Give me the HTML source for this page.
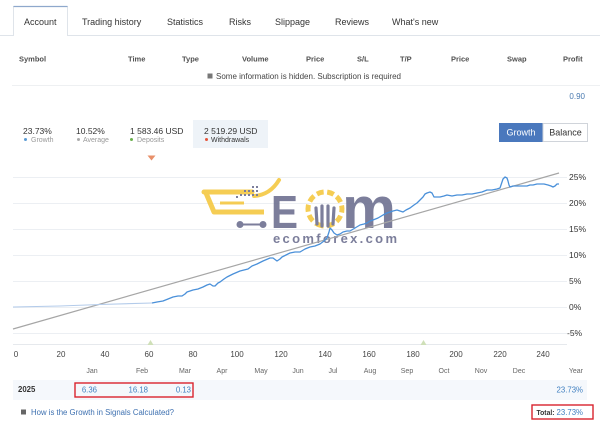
<!DOCTYPE html>
<html><head><meta charset="utf-8"><style>
html,body{margin:0;padding:0;background:#fff;width:600px;height:424px;overflow:hidden}
svg{display:block;font-family:"Liberation Sans",Arial,sans-serif}
</style></head><body>
<svg width="600" height="424" viewBox="0 0 600 424" xmlns="http://www.w3.org/2000/svg">
<rect width="600" height="424" fill="#fff"/>
<!-- tabs -->
<line x1="0" y1="35.5" x2="600" y2="35.5" stroke="#dfe4ea" stroke-width="1"/>
<rect x="13" y="6" width="55" height="30" fill="#fff"/>
<path d="M13.5,36 L13.5,6.5 L67.5,6.5 L67.5,36" fill="none" stroke="#dfe4ea"/>
<line x1="13.5" y1="6.5" x2="67.5" y2="6.5" stroke="#8ea8cc" stroke-width="1.2"/>
<g font-size="9" fill="#333">
<text x="24" y="25">Account</text>
<text x="82" y="25">Trading history</text>
<text x="167" y="25">Statistics</text>
<text x="229" y="25">Risks</text>
<text x="275" y="25">Slippage</text>
<text x="335" y="25">Reviews</text>
<text x="392" y="25">What's new</text>
</g>
<!-- table header -->
<g font-size="7.5" font-weight="bold" fill="#505050">
<text x="19" y="61.5">Symbol</text>
<text x="128" y="61.5">Time</text>
<text x="182" y="61.5">Type</text>
<text x="242" y="61.5">Volume</text>
<text x="306" y="61.5">Price</text>
<text x="357" y="61.5">S/L</text>
<text x="400" y="61.5">T/P</text>
<text x="451" y="61.5">Price</text>
<text x="507" y="61.5">Swap</text>
<text x="563" y="61.5">Profit</text>
</g>
<rect x="207.5" y="73.5" width="5" height="5" fill="#777"/>
<text x="216" y="79" font-size="8" fill="#444" textLength="185" lengthAdjust="spacingAndGlyphs">Some information is hidden. Subscription is required</text>
<line x1="12" y1="85.5" x2="600" y2="85.5" stroke="#eef0f2"/>
<text x="585" y="99" font-size="8" fill="#4a7ab0" text-anchor="end">0.90</text>
<!-- stats -->
<rect x="193" y="120" width="75" height="28" fill="#eef3f8"/>
<g font-size="8.5" fill="#333">
<text x="23" y="134">23.73%</text>
<text x="76" y="134">10.52%</text>
<text x="130" y="134">1 583.46 USD</text>
<text x="204" y="134">2 519.29 USD</text>
</g>
<circle cx="25.5" cy="139.5" r="1.5" fill="#5b9bd5"/>
<circle cx="78.5" cy="139.5" r="1.5" fill="#aaa"/>
<circle cx="131.5" cy="139.5" r="1.5" fill="#6ab04c"/>
<circle cx="206.5" cy="139.5" r="1.5" fill="#e5533a"/>
<g font-size="7" fill="#999">
<text x="31" y="142">Growth</text>
<text x="83" y="142">Average</text>
<text x="137" y="142">Deposits</text>
</g>
<text x="211" y="142" font-size="7" fill="#333">Withdrawals</text>
<polygon points="147.5,155.5 155.5,155.5 151.5,160.5" fill="#e8906a"/>
<!-- buttons -->
<rect x="499" y="123" width="44" height="19" fill="#4a78bd"/>
<rect x="543" y="123.5" width="44.5" height="18" fill="#fff" stroke="#d0d4da"/>
<text x="521" y="135.5" font-size="9" fill="#fff" text-anchor="middle">Growth</text>
<text x="565.5" y="135.5" font-size="9" fill="#333" text-anchor="middle">Balance</text>
<!-- grid -->
<g stroke="#eceff3" stroke-width="1">
<line x1="13" y1="177.5" x2="567" y2="177.5"/>
<line x1="13" y1="203.5" x2="567" y2="203.5"/>
<line x1="13" y1="229.5" x2="567" y2="229.5"/>
<line x1="13" y1="255.5" x2="567" y2="255.5"/>
<line x1="13" y1="281.5" x2="567" y2="281.5"/>
<line x1="13" y1="307.5" x2="567" y2="307.5"/>
<line x1="13" y1="333.5" x2="567" y2="333.5"/>
</g>
<line x1="13" y1="344.5" x2="567" y2="344.5" stroke="#e6e9ed"/>
<g font-size="8.5" fill="#333">
<text x="569" y="180">25%</text>
<text x="569" y="206">20%</text>
<text x="569" y="232">15%</text>
<text x="569" y="258">10%</text>
<text x="569" y="284">5%</text>
<text x="569" y="310">0%</text>
<text x="567" y="336">-5%</text>
</g>
<!-- watermark logo -->
<g opacity="0.9">
<path d="M204,192 L252,192" stroke="#f5c842" stroke-width="5" stroke-linecap="round" fill="none"/>
<path d="M254,196 Q270,195 279,180" stroke="#f5c842" stroke-width="4" stroke-linecap="round" fill="none"/>
<path d="M206,193 L214,212 L264,212" stroke="#f5c842" stroke-width="5" stroke-linejoin="round" fill="none"/>
<path d="M220,203 L244,203" stroke="#f5c842" stroke-width="3" fill="none"/>
<g fill="#6e7191">
<rect x="240" y="194" width="2" height="2"/><rect x="244" y="194" width="2" height="2"/><rect x="248" y="194" width="2" height="2"/><rect x="252" y="194" width="2" height="2"/><rect x="256" y="194" width="2" height="2"/>
<rect x="244" y="190" width="2" height="2"/><rect x="248" y="190" width="2" height="2"/><rect x="252" y="190" width="2" height="2"/><rect x="256" y="190" width="2" height="2"/>
<rect x="252" y="186" width="2" height="2"/><rect x="256" y="186" width="2" height="2"/><rect x="236" y="196" width="2" height="2"/>
</g>
<line x1="240" y1="224.5" x2="263" y2="224.5" stroke="#6e7191" stroke-width="2"/>
<circle cx="240" cy="224.5" r="3.5" fill="#6e7191"/>
<circle cx="263" cy="224.5" r="3.5" fill="#6e7191"/>
<text x="271" y="228" font-size="46" font-weight="bold" fill="#6e7191" textLength="27" lengthAdjust="spacingAndGlyphs">E</text>
<circle cx="325" cy="209" r="17" fill="none" stroke="#f5c842" stroke-width="5" stroke-dasharray="7 3.5" transform="rotate(100 325 209)"/>
<path d="M316,208 L317,224 M322,206 L322,226 M328,206 L328,226 M334,208 L333,224" stroke="#6e7191" stroke-width="3.2" stroke-linecap="round" fill="none"/>
<text x="342" y="228" font-size="58" font-weight="bold" fill="#6e7191" textLength="54" lengthAdjust="spacingAndGlyphs">m</text>
<text x="273" y="243" font-size="13" font-weight="bold" fill="#6e7191" textLength="124" lengthAdjust="spacing">ecomforex.com</text>
</g>
<!-- series -->
<line x1="13" y1="329" x2="559" y2="173" stroke="#a6a6a6" stroke-width="1.2"/>
<path d="M13,307 L60,306 L100,304.5 L152,303" fill="none" stroke="#b3cbea" stroke-width="1.1"/>
<polyline fill="none" stroke="#4a90d9" stroke-width="1.3" stroke-linejoin="round" points="152,303 157,302 163,301 168,299 173,297 178,296 182,296 185,294 187,292 193,290 198,289 203,287 207,285 210,284 213,286 215,286 218,283 220,282 224,279 227,277 233,274 240,271 244,270 248,269 252,266 257,264 263,261 270,258 273,258 277,261 280,259 282,257 286,255 290,253 295,252 300,252 305,249 310,247 315,246 320,244 324,241 327,238 329,232 330,228 332,230 334,233 337,235 340,234 343,232 347,231 350,231 355,228 360,225 364,224 367,223 370,221 373,220 378,218 383,215 387,213 390,212 393,211 397,210 400,211 403,212 406,210 410,208 414,205 417,203 420,200 423,197 425,194 427,193 430,192 432,193 433,195 434,197 437,197 440,197 444,196 447,195 452,196 457,195 462,195 467,194 472,194 477,193 482,192 487,190 492,190 497,189 500,188 501,185 502,182 503,179 505,177 507,178 508,181 509,185 510,187 513,186 518,186 523,186 527,186 530,185 533,185 537,184 540,184 544,184 548,185 551,186 553,187 555,186 557,184 559,184"/>
<polygon points="147.5,345 153.5,345 150.5,340" fill="#cfe0b8"/>
<polygon points="420.5,345 426.5,345 423.5,340" fill="#cfe0b8"/>
<!-- x axis -->
<g font-size="8" fill="#444" text-anchor="middle">
<text x="16" y="357">0</text>
<text x="61" y="357">20</text>
<text x="105" y="357">40</text>
<text x="149" y="357">60</text>
<text x="193" y="357">80</text>
<text x="237" y="357">100</text>
<text x="281" y="357">120</text>
<text x="325" y="357">140</text>
<text x="369" y="357">160</text>
<text x="413" y="357">180</text>
<text x="456" y="357">200</text>
<text x="500" y="357">220</text>
<text x="543" y="357">240</text>
</g>
<g font-size="7" fill="#666" text-anchor="middle">
<text x="92" y="373">Jan</text>
<text x="142" y="373">Feb</text>
<text x="185" y="373">Mar</text>
<text x="222" y="373">Apr</text>
<text x="261" y="373">May</text>
<text x="298" y="373">Jun</text>
<text x="333" y="373">Jul</text>
<text x="370" y="373">Aug</text>
<text x="407" y="373">Sep</text>
<text x="444" y="373">Oct</text>
<text x="481" y="373">Nov</text>
<text x="519" y="373">Dec</text>
<text x="583" y="373" text-anchor="end">Year</text>
</g>
<!-- year row -->
<rect x="13" y="380" width="574" height="20" fill="#f5f8fc"/>
<text x="18" y="392" font-size="7.8" font-weight="bold" fill="#333">2025</text>
<g font-size="7.8" fill="#3f7fc0" text-anchor="end">
<text x="97" y="392.5">6.36</text>
<text x="148" y="392.5">16.18</text>
<text x="191" y="392.5">0.13</text>
<text x="583" y="392.5">23.73%</text>
</g>
<rect x="75" y="383" width="118" height="14" fill="none" stroke="#d9232e" stroke-width="1.4"/>
<rect x="21" y="409.5" width="5" height="5" fill="#666"/>
<text x="31" y="415" font-size="8" fill="#3d70b0" textLength="143" lengthAdjust="spacingAndGlyphs">How is the Growth in Signals Calculated?</text>
<rect x="532" y="405" width="61" height="14" fill="none" stroke="#d9232e" stroke-width="1.4"/>
<text x="536.5" y="415" font-size="7.5" font-weight="bold" fill="#333" textLength="18" lengthAdjust="spacingAndGlyphs">Total:</text>
<text x="583" y="415" font-size="7.8" fill="#3f7fc0" text-anchor="end">23.73%</text>
</svg>
</body></html>
